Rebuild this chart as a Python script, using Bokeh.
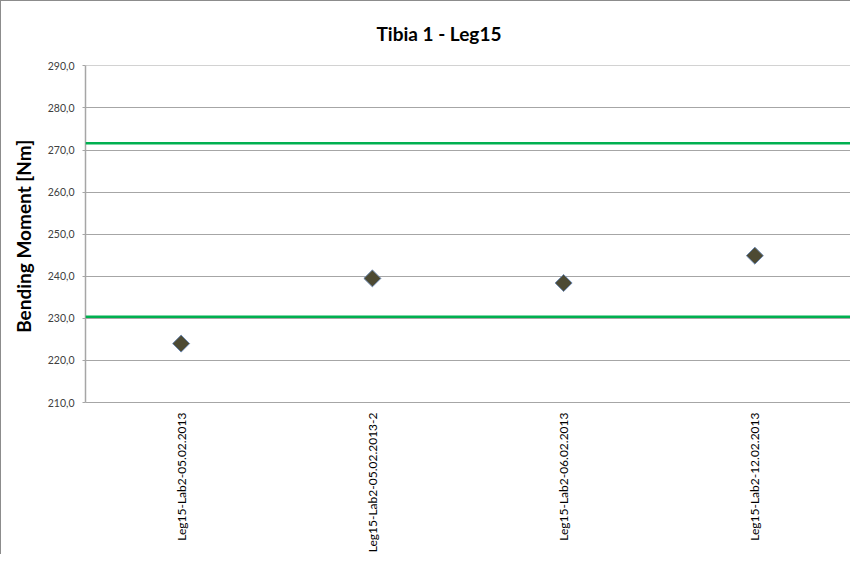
import math
from bokeh.plotting import figure
from bokeh.models import FactorRange, Range1d, FixedTicker, CustomJSTickFormatter, Span, ColumnDataSource
from bokeh.embed import file_html
from bokeh.resources import INLINE

# ---- data ----
categories = ["Leg15-Lab2-05.02.2013", "Leg15-Lab2-05.02.2013-2",
              "Leg15-Lab2-06.02.2013", "Leg15-Lab2-12.02.2013"]
bending_moment = [224.0, 239.5, 238.4, 244.9]
upper_limit = 271.6
lower_limit = 230.4
y_ticks = [210, 220, 230, 240, 250, 260, 270, 280, 290]
chart_title = "Tibia 1 - Leg15"

p = figure(width=850, height=554, output_backend="svg", toolbar_location=None,
           x_range=FactorRange(factors=categories, range_padding=0),
           y_range=Range1d(210, 290.1),
           min_border_left=84, min_border_top=64, min_border_right=1, min_border_bottom=150)
p.styles = {"border-left": "1px solid #8c8c8c", "border-top": "1px solid #8c8c8c"}

p.title.text = chart_title
p.title.align = "left"
p.title.offset = 291
p.title.vertical_align = "top"
p.title.text_font = "Lato"
p.title.text_font_style = "bold"
p.title.text_font_size = "19px"
p.title.text_color = "#000000"
p.title.standoff = 38

p.outline_line_color = None
p.background_fill_color = "white"
p.border_fill_color = "white"

# grid
p.xgrid.grid_line_color = None
p.ygrid.grid_line_color = "#a6a6a6"
p.ygrid.grid_line_width = 1

# y axis
p.yaxis.ticker = FixedTicker(ticks=y_ticks)
p.yaxis.formatter = CustomJSTickFormatter(code="return tick.toFixed(1).replace('.', ',');")
p.yaxis.axis_label = "Bending Moment  [Nm]"
p.yaxis.axis_label_text_font = "Lato"
p.yaxis.axis_label_text_font_style = "bold"
p.yaxis.axis_label_text_font_size = "19px"
p.yaxis.axis_label_text_color = "#000000"
p.yaxis.axis_label_standoff = 10
p.yaxis.major_label_text_font = "Lato"
p.yaxis.major_label_text_font_size = "10.5px"
p.yaxis.major_label_text_color = "#404040"
p.yaxis.major_label_standoff = 8
p.yaxis.axis_line_color = "#a6a6a6"
p.yaxis.axis_line_width = 1.5
p.yaxis.major_tick_line_color = "#a6a6a6"
p.yaxis.major_tick_out = 3
p.yaxis.major_tick_in = 0
p.yaxis.minor_tick_line_color = None

# x axis
p.xaxis.major_label_orientation = math.pi / 2
p.xaxis.major_label_text_font = "Lato"
p.xaxis.major_label_text_font_size = "12px"
p.xaxis.major_label_text_color = "#000000"
p.xaxis.major_label_standoff = 4
p.xaxis.axis_line_color = "#a6a6a6"
p.xaxis.major_tick_line_color = None
p.xaxis.minor_tick_line_color = None

# limit lines
for lim in (upper_limit, lower_limit):
    p.add_layout(Span(location=lim, dimension="width", line_color="#00b050", line_width=2.5))

src = ColumnDataSource(dict(x=categories, y=bending_moment))
p.scatter(x="x", y="y", source=src, marker="square", angle=math.pi / 4, size=12,
          fill_color="#4d4a33", line_color="#6a86ad", line_width=1)

open("out.html", "w").write(file_html(p, INLINE))
